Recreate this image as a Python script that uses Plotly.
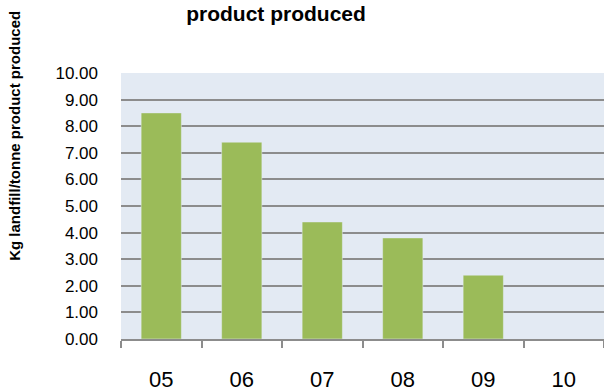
import plotly.graph_objects as go

categories = ["05", "06", "07", "08", "09", "10"]
values = [8.5, 7.4, 4.4, 3.8, 2.4, None]
y_ticks = [0, 1, 2, 3, 4, 5, 6, 7, 8, 9, 10]
y_tick_labels = ["%.2f" % v for v in y_ticks]

fig = go.Figure(go.Bar(x=categories, y=values, marker_color="#9BBB59", width=0.5))

fig.update_layout(
    width=604, height=392,
    margin=dict(l=121, r=0, t=73, b=48),
    paper_bgcolor="white",
    plot_bgcolor="#e3eaf3",
    showlegend=False,
    font=dict(family="Liberation Sans, Arial", color="black"),
    title=dict(text="<b>product produced</b>", x=276/604, xanchor="center",
               y=1 - 14/392, yanchor="middle", font=dict(size=21)),
)
fig.update_xaxes(
    type="category", showgrid=False, showline=True, linecolor="#8c8c8c", linewidth=2,
    ticks="outside", tickson="boundaries", ticklen=7, tickwidth=2, tickcolor="#8c8c8c",
    tickfont=dict(size=22), ticklabelstandoff=20,
)
fig.update_yaxes(
    range=[0, 10], tickvals=y_ticks, ticktext=y_tick_labels,
    showgrid=True, gridcolor="#8c8c8c", gridwidth=2, zeroline=False,
    showline=False, ticks="", tickfont=dict(size=17), ticklabelstandoff=22,
)
fig.add_annotation(
    text="<b>Kg landfill/tonne product produced</b>", textangle=-90,
    xref="paper", yref="paper", x=-106/483, y=(344 - 137) / 271,
    xanchor="center", yanchor="middle", showarrow=False, font=dict(size=15),
)

fig.write_html("out.html")
